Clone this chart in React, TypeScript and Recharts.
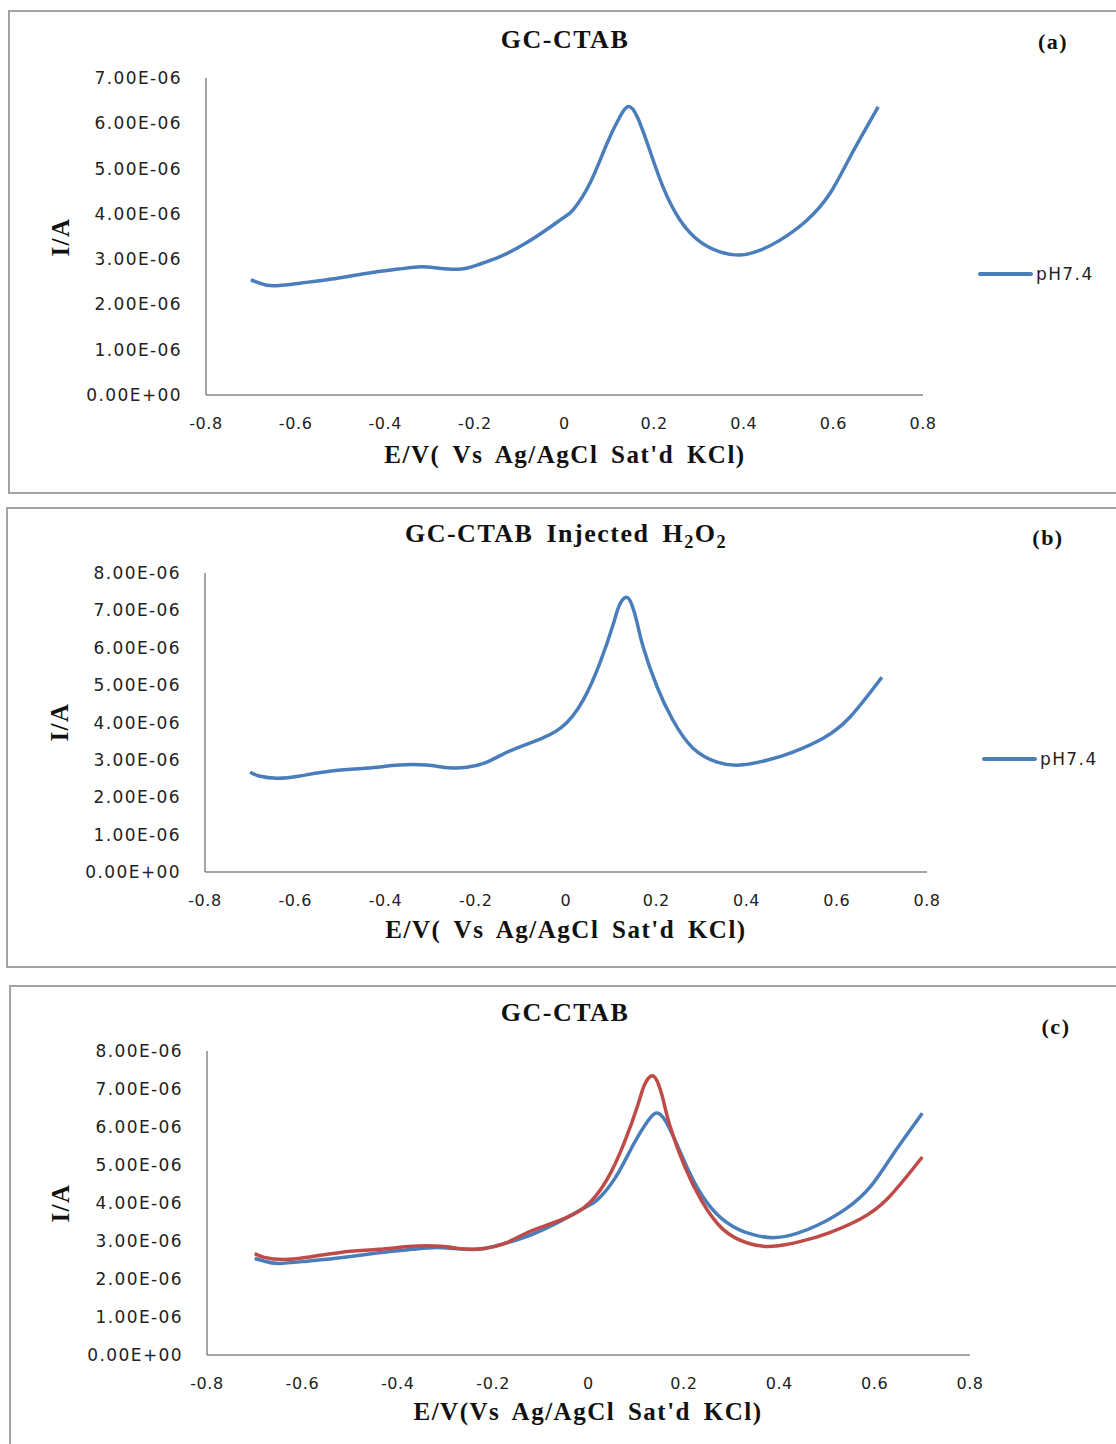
import React from 'react'
import { LineChart, Line, XAxis, YAxis } from 'recharts'

// potentials (V) and currents (A)
const potentialA = [
  -0.7, -0.68, -0.65, -0.59, -0.52, -0.44, -0.37, -0.32, -0.28, -0.23, -0.195, -0.145, -0.085, -0.03, 0,
  0.02, 0.057, 0.095, 0.124, 0.142, 0.162, 0.19, 0.22, 0.258, 0.303, 0.347, 0.392, 0.437, 0.481, 0.541,
  0.593, 0.637, 0.7,
]
const currentA = [
  2.54e-6, 2.47e-6, 2.41e-6, 2.47e-6, 2.56e-6, 2.69e-6, 2.78e-6, 2.83e-6, 2.8e-6, 2.78e-6, 2.87e-6,
  3.05e-6, 3.36e-6, 3.72e-6, 3.93e-6, 4.1e-6, 4.68e-6, 5.56e-6, 6.15e-6, 6.37e-6, 6.15e-6, 5.41e-6,
  4.59e-6, 3.86e-6, 3.38e-6, 3.16e-6, 3.09e-6, 3.2e-6, 3.42e-6, 3.86e-6, 4.46e-6, 5.25e-6, 6.36e-6,
]

const potentialB = [
  -0.7, -0.68, -0.64, -0.59, -0.52, -0.44, -0.37, -0.31, -0.26, -0.22, -0.175, -0.13, -0.073, -0.01,
  0.038, 0.075, 0.104, 0.117, 0.133, 0.146, 0.157, 0.171, 0.202, 0.237, 0.281, 0.335, 0.386, 0.445,
  0.503, 0.57, 0.629, 0.7,
]
const currentB = [
  2.67e-6, 2.57e-6, 2.51e-6, 2.57e-6, 2.7e-6, 2.78e-6, 2.86e-6, 2.86e-6, 2.79e-6, 2.8e-6, 2.94e-6,
  3.21e-6, 3.48e-6, 3.87e-6, 4.6e-6, 5.59e-6, 6.6e-6, 7.1e-6, 7.35e-6, 7.15e-6, 6.7e-6, 6.02e-6,
  4.95e-6, 4.06e-6, 3.32e-6, 2.94e-6, 2.86e-6, 2.99e-6, 3.21e-6, 3.58e-6, 4.14e-6, 5.21e-6,
]

const xTicks = [-0.8, -0.6, -0.4, -0.2, 0, 0.2, 0.4, 0.6, 0.8]
const yTicks7 = [0, 1e-6, 2e-6, 3e-6, 4e-6, 5e-6, 6e-6, 7e-6]
const yTicks8 = [0, 1e-6, 2e-6, 3e-6, 4e-6, 5e-6, 6e-6, 7e-6, 8e-6]

const seriesA = potentialA.map((e, k) => ({ e, i: currentA[k] }))
const seriesB = potentialB.map((e, k) => ({ e, i: currentB[k] }))

const BLUE = '#4a7ebb'
const RED = '#be4b48'
const AXIS = '#868686'
const SERIF = '"Liberation Serif"'
const SANS = '"DejaVu Sans", Verdana, sans-serif'

const fmtSci = (v: number) => {
  const [m, e] = v.toExponential(2).split('e')
  const n = Number(e)
  return `${m}E${n < 0 ? '-' : '+'}${String(Math.abs(n)).padStart(2, '0')}`
}

const tickY = { fontSize: 17, fill: '#222', fontFamily: SANS, letterSpacing: 1.4 }
const tickX = { fontSize: 16, fill: '#222', fontFamily: SANS, letterSpacing: 0.6 }

function Text({ x, y, size, children, rotate }: any) {
  return (
    <div
      style={{
        position: 'absolute',
        left: x,
        top: y,
        transform: `translate(-50%, -50%)${rotate ? ' rotate(-90deg)' : ''}`,
        whiteSpace: 'nowrap',
        fontFamily: SERIF,
        fontWeight: 'bold',
        fontSize: size,
        letterSpacing: 1.5,
        wordSpacing: 5,
        color: '#111',
      }}
    >
      {children}
    </div>
  )
}

function LegendItem({ x, y }: { x: number; y: number }) {
  return (
    <div style={{ position: 'absolute', left: x, top: y - 10, height: 20, display: 'flex', alignItems: 'center' }}>
      <div style={{ width: 55, height: 4, background: BLUE, borderRadius: 2 }} />
      <span style={{ fontFamily: SANS, fontSize: 17, letterSpacing: 1.4, color: '#222', marginLeft: 3 }}>pH7.4</span>
    </div>
  )
}

function Box({ left, top, width, height }: any) {
  return (
    <div
      style={{
        position: 'absolute',
        left,
        top,
        width,
        height,
        border: '2px solid #a3a3a3',
        boxSizing: 'border-box',
      }}
    />
  )
}

function Voltammogram({ left, top, width, height, margin, yMax, yTicks, lines }: any) {
  return (
    <div style={{ position: 'absolute', left, top }}>
      <LineChart width={width} height={height} margin={margin}>
        <XAxis
          type="number"
          dataKey="e"
          domain={[-0.8, 0.8]}
          ticks={xTicks}
          height={30}
          tickLine={false}
          tickSize={6}
          tickMargin={17}
          tick={tickX}
          stroke={AXIS}
          strokeWidth={1.5}
          allowDuplicatedCategory={false}
        />
        <YAxis
          type="number"
          domain={[0, yMax]}
          ticks={yTicks}
          width={80}
          tickLine={false}
          tickSize={6}
          tickMargin={18}
          tick={tickY}
          tickFormatter={fmtSci}
          stroke={AXIS}
          strokeWidth={1.5}
        />
        {lines.map((l: any, k: number) => (
          <Line
            key={k}
            data={l.data}
            dataKey="i"
            type="natural"
            stroke={l.color}
            strokeWidth={3.5}
            dot={false}
            isAnimationActive={false}
          />
        ))}
      </LineChart>
    </div>
  )
}

export default function App() {
  return (
    <div style={{ position: 'absolute', left: 0, top: 0, width: 1116, height: 1444, overflow: 'hidden', background: '#fff' }}>
      {/* (a) */}
      <Box left={8} top={10} width={1120} height={484} />
      <Voltammogram
        left={8}
        top={10}
        width={1108}
        height={483}
        margin={{ top: 68, right: 193, bottom: 68, left: 118 }}
        yMax={7e-6}
        yTicks={yTicks7}
        lines={[{ data: seriesA, color: BLUE }]}
      />
      <Text x={565} y={40} size={26}>GC-CTAB</Text>
      <Text x={1053} y={42} size={22}>(a)</Text>
      <Text x={565} y={455} size={25}>E/V( Vs Ag/AgCl Sat'd KCl)</Text>
      <Text x={61} y={237} size={25} rotate>I/A</Text>
      <LegendItem x={978} y={274} />

      {/* (b) */}
      <Box left={6} top={507} width={1120} height={461} />
      <Voltammogram
        left={6}
        top={507}
        width={1110}
        height={460}
        margin={{ top: 66, right: 189, bottom: 65, left: 119 }}
        yMax={8e-6}
        yTicks={yTicks8}
        lines={[{ data: seriesB, color: BLUE }]}
      />
      <Text x={566} y={536} size={26}>
        GC-CTAB Injected H<sub style={{ fontSize: '0.7em' }}>2</sub>O<sub style={{ fontSize: '0.7em' }}>2</sub>
      </Text>
      <Text x={1048} y={538} size={22}>(b)</Text>
      <Text x={566} y={930} size={25}>E/V( Vs Ag/AgCl Sat'd KCl)</Text>
      <Text x={60} y={722} size={25} rotate>I/A</Text>
      <LegendItem x={982} y={759} />

      {/* (c) */}
      <Box left={9} top={985} width={1120} height={480} />
      <Voltammogram
        left={9}
        top={985}
        width={1107}
        height={459}
        margin={{ top: 66, right: 146, bottom: 59, left: 118 }}
        yMax={8e-6}
        yTicks={yTicks8}
        lines={[
          { data: seriesA, color: BLUE },
          { data: seriesB, color: RED },
        ]}
      />
      <Text x={565} y={1013} size={26}>GC-CTAB</Text>
      <Text x={1056} y={1027} size={22}>(c)</Text>
      <Text x={588} y={1412} size={25}>E/V(Vs Ag/AgCl Sat'd KCl)</Text>
      <Text x={61} y={1203} size={25} rotate>I/A</Text>
    </div>
  )
}
